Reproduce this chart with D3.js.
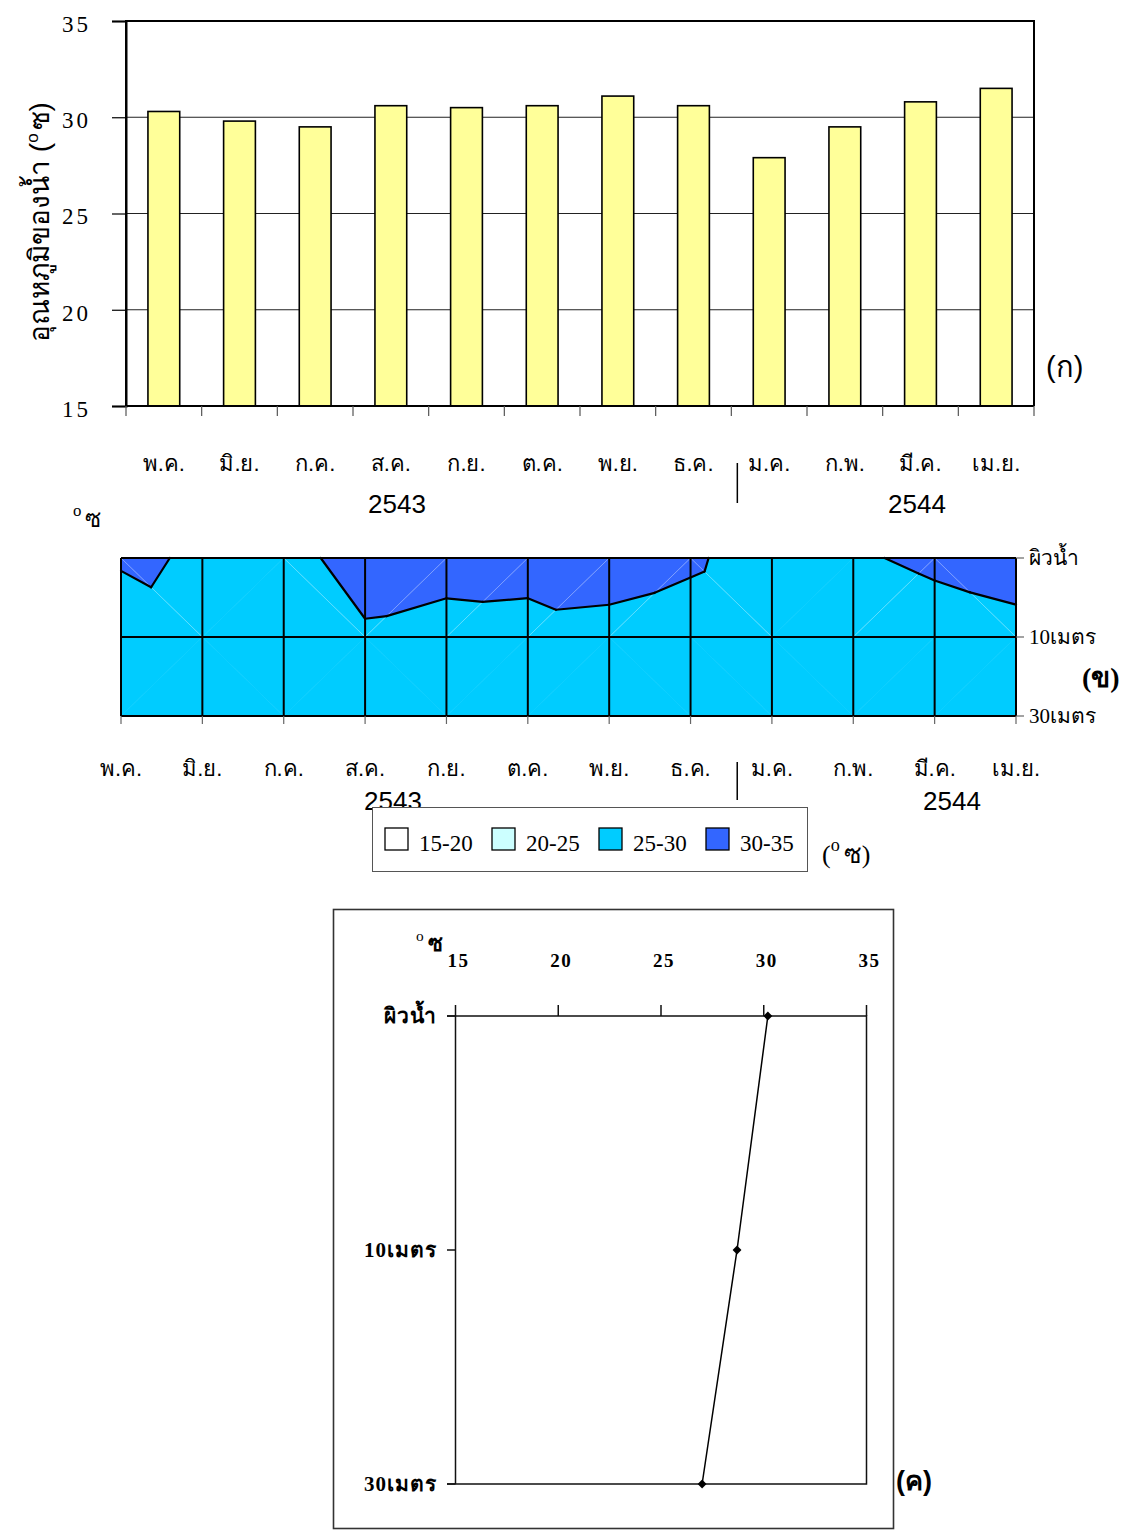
<!DOCTYPE html>
<html>
<head>
<meta charset="utf-8">
<script src="https://cdn.jsdelivr.net/npm/d3@7"></script>
<style>
  body { margin: 0; background: #fff; }
  svg { display: block; }
</style>
</head>
<body>
<svg id="chart" width="1128" height="1533"></svg>
<script>
// ---- data ----
const months = ["พ.ค.", "มิ.ย.", "ก.ค.", "ส.ค.", "ก.ย.", "ต.ค.", "พ.ย.", "ธ.ค.", "ม.ค.", "ก.พ.", "มี.ค.", "เม.ย."];
const years = ["2543", "2544"];
const depths = ["ผิวน้ำ", "10เมตร", "30เมตร"];
// monthly water temperature (°C) at each depth
const surfaceTemp = [30.3, 29.8, 29.5, 30.6, 30.5, 30.6, 31.1, 30.6, 27.9, 29.5, 30.8, 31.5];
const temp10m = [28.46, 29.49, 28.6, 29.82, 29.52, 29.42, 29.24, 28.17, 27.11, 26.75, 28.0, 28.96];
const temp30m = [27.3, 27.6, 27.2, 27.8, 27.9, 27.6, 27.4, 26.7, 25.8, 25.6, 26.2, 26.4];
// annual mean profile
const profileTemp = [30.2, 28.7, 27.0];
// contour bands
const bandLevels = [15, 20, 25, 30, 35];
const bandLabels = ["15-20", "20-25", "25-30", "30-35"];
const tempTicks = [15, 20, 25, 30, 35];

const bandColors = ["#FFFFFF", "#CCFFFF", "#00CCFF", "#3366FF"];
const serif = "'Liberation Serif','DejaVu Serif',serif";
const sans = "'Liberation Sans Narrow','Liberation Sans','DejaVu Sans',sans-serif";

const svg = d3.select("#chart");

// "°ซ" unit label with a raised small circle
function degLabel(g, x, y, size, paren, bold) {
  const t = g.append("text").attr("x", x).attr("y", y)
    .attr("font-family", serif).attr("font-size", size)
    .attr("font-weight", bold ? "bold" : "normal");
  if (paren) t.append("tspan").text("(");
  t.append("tspan").attr("font-size", size * 0.7).attr("font-weight", "normal")
    .attr("dy", -size * 0.45).text("o");
  t.append("tspan").attr("dy", size * 0.45).attr("dx", 4).text(paren ? "ซ)" : "ซ");
  return t;
}

// ================= (ก) monthly surface temperature bars =================
const gA = svg.append("g");
const xA = d3.scaleBand().domain(months).range([126, 1034]).paddingInner(0.58).paddingOuter(0.29);
const yA = d3.scaleLinear().domain([15, 35]).range([406, 21]);

gA.selectAll("line.grid").data(tempTicks.filter(d => d > 15 && d < 35)).join("line")
  .attr("class", "grid")
  .attr("x1", 126).attr("x2", 1034)
  .attr("y1", d => yA(d)).attr("y2", d => yA(d))
  .attr("stroke", "#222").attr("stroke-width", 1.2);

gA.selectAll("rect.bar").data(surfaceTemp).join("rect")
  .attr("class", "bar")
  .attr("x", (d, i) => xA(months[i]))
  .attr("y", d => yA(d))
  .attr("width", xA.bandwidth())
  .attr("height", d => yA(15) - yA(d))
  .attr("fill", "#FFFF99").attr("stroke", "#000").attr("stroke-width", 1.6);

// frame
gA.append("path").attr("d", `M126,${yA(15)}V${yA(35)}H1034V${yA(15)}`)
  .attr("fill", "none").attr("stroke", "#000").attr("stroke-width", 2);

// y axis
const axA = gA.append("g").attr("transform", "translate(126,0)")
  .call(d3.axisLeft(yA).tickValues(tempTicks).tickSize(14).tickPadding(35).tickFormat(d3.format("d")));
axA.select(".domain").attr("stroke-width", 2);
axA.selectAll(".tick line").attr("stroke-width", 1.2);
axA.selectAll(".tick text").attr("font-family", serif).attr("font-size", 23)
  .attr("letter-spacing", 3).attr("text-anchor", "start").attr("x", -64)
  .attr("dy", "0.45em").attr("fill", "#000");

// x axis: ticks at category boundaries
const stepA = xA.step();
const boundsA = d3.range(months.length + 1).map(i => xA.range()[0] + i * stepA);
gA.append("line").attr("x1", 126).attr("x2", 1034).attr("y1", yA(15)).attr("y2", yA(15))
  .attr("stroke", "#000").attr("stroke-width", 2);
gA.selectAll("line.xt").data(boundsA).join("line").attr("class", "xt")
  .attr("x1", d => d).attr("x2", d => d).attr("y1", yA(15)).attr("y2", yA(15) + 10)
  .attr("stroke", "#555").attr("stroke-width", 1.2);

gA.selectAll("text.mon").data(months).join("text").attr("class", "mon")
  .attr("x", d => xA(d) + xA.bandwidth() / 2).attr("y", 471)
  .attr("text-anchor", "middle").attr("font-family", sans).attr("font-size", 22)
  .text(d => d);

const sepA = xA("ม.ค.") - (stepA - xA.bandwidth()) / 2 + 6;
gA.append("line").attr("x1", sepA).attr("x2", sepA).attr("y1", 463).attr("y2", 503)
  .attr("stroke", "#000").attr("stroke-width", 1.5);
gA.append("text").attr("x", 397).attr("y", 513).attr("text-anchor", "middle")
  .attr("font-family", sans).attr("font-size", 26).text(years[0]);
gA.append("text").attr("x", 917).attr("y", 513).attr("text-anchor", "middle")
  .attr("font-family", sans).attr("font-size", 26).text(years[1]);

// rotated y title
const yt = gA.append("text").attr("transform", "translate(49,222) rotate(-90)")
  .attr("text-anchor", "middle").attr("font-family", sans).attr("font-size", 28);
yt.append("tspan").text("อุณหภูมิของน้ำ (");
yt.append("tspan").attr("font-size", 17).attr("dy", -11).text("o");
yt.append("tspan").attr("dy", 11).attr("dx", 3).text("ซ)");

gA.append("text").attr("x", 1046).attr("y", 377).attr("font-family", sans).attr("font-size", 29).text("(ก)");

// ================= (ข) depth-time temperature contour =================
const gB = svg.append("g");
const xB = d3.scalePoint().domain(months).range([121, 1016]);
const yB = d3.scalePoint().domain(depths).range([558, 716]);
const grid = [surfaceTemp, temp10m, temp30m];

const node = (r, c) => ({ x: xB(months[c]), y: yB(depths[r]), v: grid[r][c] });
const lerp = (a, b, L) => {
  const t = (L - a.v) / (b.v - a.v);
  return { x: a.x + t * (b.x - a.x), y: a.y + t * (b.y - a.y), v: L };
};
// keep the part of a polygon where sign*(v - L) >= 0
function clip(poly, L, sign) {
  const out = [];
  for (let i = 0; i < poly.length; i++) {
    const a = poly[i], b = poly[(i + 1) % poly.length];
    const ia = sign * (a.v - L) >= 0, ib = sign * (b.v - L) >= 0;
    if (ia && ib) out.push(b);
    else if (ia && !ib) out.push(lerp(a, b, L));
    else if (!ia && ib) { out.push(lerp(a, b, L)); out.push(b); }
  }
  return out;
}

// split every grid cell into two triangles along the warmer diagonal
const tris = [], diagonals = [];
for (let r = 0; r < depths.length - 1; r++) {
  for (let c = 0; c < months.length - 1; c++) {
    const TL = node(r, c), TR = node(r, c + 1), BL = node(r + 1, c), BR = node(r + 1, c + 1);
    let pair, diag;
    if (TL.v + BR.v >= TR.v + BL.v) { pair = [[TL, TR, BR], [TL, BR, BL]]; diag = [TL, BR]; }
    else { pair = [[TL, TR, BL], [TR, BR, BL]]; diag = [TR, BL]; }
    tris.push(...pair);
    const vals = [TL.v, TR.v, BL.v, BR.v];
    const lo = d3.min(vals), hi = d3.max(vals);
    if (bandLevels.some(L => L > lo && L < hi)) diagonals.push(diag);
  }
}

const polys = [];
tris.forEach(t => {
  for (let k = 0; k < bandLabels.length; k++) {
    let p = clip(t, bandLevels[k], 1);
    if (p.length) p = clip(p, bandLevels[k + 1], -1);
    if (p.length >= 3) polys.push({ pts: p, k });
  }
});
const polyLine = d3.line().x(d => d.x).y(d => d.y);
gB.selectAll("path.band").data(polys).join("path").attr("class", "band")
  .attr("d", d => polyLine(d.pts) + "Z")
  .attr("fill", d => bandColors[d.k]).attr("stroke", d => bandColors[d.k]).attr("stroke-width", 0.6);

gB.selectAll("line.diag").data(diagonals).join("line").attr("class", "diag")
  .attr("x1", d => d[0].x).attr("y1", d => d[0].y).attr("x2", d => d[1].x).attr("y2", d => d[1].y)
  .attr("stroke", "#fff").attr("stroke-opacity", 0.35).attr("stroke-width", 1);

// grid
gB.selectAll("line.vg").data(months).join("line").attr("class", "vg")
  .attr("x1", d => xB(d)).attr("x2", d => xB(d)).attr("y1", 558).attr("y2", 716)
  .attr("stroke", "#000").attr("stroke-width", 2);
gB.selectAll("line.hg").data(depths).join("line").attr("class", "hg")
  .attr("x1", 121).attr("x2", 1016).attr("y1", d => yB(d)).attr("y2", d => yB(d))
  .attr("stroke", "#000").attr("stroke-width", 2);

// isotherm lines
const segs = [];
tris.forEach(t => {
  bandLevels.slice(1, -1).forEach(L => {
    const pts = [];
    for (let i = 0; i < 3; i++) {
      const a = t[i], b = t[(i + 1) % 3];
      if ((a.v - L) * (b.v - L) < 0) pts.push(lerp(a, b, L));
    }
    if (pts.length === 2) segs.push(pts);
  });
});
gB.selectAll("line.iso").data(segs).join("line").attr("class", "iso")
  .attr("x1", d => d[0].x).attr("y1", d => d[0].y).attr("x2", d => d[1].x).attr("y2", d => d[1].y)
  .attr("stroke", "#000").attr("stroke-width", 2.2).attr("stroke-linecap", "round");

// ticks and labels
gB.selectAll("line.mt").data(months).join("line").attr("class", "mt")
  .attr("x1", d => xB(d)).attr("x2", d => xB(d)).attr("y1", 716).attr("y2", 724)
  .attr("stroke", "#666").attr("stroke-width", 1.2);
gB.selectAll("line.dt").data(depths).join("line").attr("class", "dt")
  .attr("x1", 1016).attr("x2", 1024).attr("y1", d => yB(d)).attr("y2", d => yB(d))
  .attr("stroke", "#666").attr("stroke-width", 1.2);
gB.selectAll("text.dl").data(depths).join("text").attr("class", "dl")
  .attr("x", 1029).attr("y", d => yB(d) + 7)
  .attr("font-family", serif).attr("font-size", 21).text(d => d);
gB.append("text").attr("x", 1082).attr("y", 687).attr("font-family", serif)
  .attr("font-weight", "bold").attr("font-size", 28).text("(ข)");

gB.selectAll("text.mon").data(months).join("text").attr("class", "mon")
  .attr("x", d => xB(d)).attr("y", 776).attr("text-anchor", "middle")
  .attr("font-family", sans).attr("font-size", 22).text(d => d);
const sepB = (xB("ธ.ค.") + xB("ม.ค.")) / 2 + 6;
gB.append("line").attr("x1", sepB).attr("x2", sepB).attr("y1", 762).attr("y2", 800)
  .attr("stroke", "#000").attr("stroke-width", 1.5);
gB.append("text").attr("x", 393).attr("y", 810).attr("text-anchor", "middle")
  .attr("font-family", sans).attr("font-size", 26).text(years[0]);
gB.append("text").attr("x", 952).attr("y", 810).attr("text-anchor", "middle")
  .attr("font-family", sans).attr("font-size", 26).text(years[1]);

degLabel(gB, 73, 527, 24, false, false);

// legend
const lg = gB.append("g");
lg.append("rect").attr("x", 372.5).attr("y", 807.5).attr("width", 435).attr("height", 64)
  .attr("fill", "#fff").attr("stroke", "#555").attr("stroke-width", 1);
const lgX = [385, 492, 599, 706];
const items = lg.selectAll("g.item").data(bandLabels).join("g").attr("class", "item")
  .attr("transform", (d, i) => `translate(${lgX[i]},828)`);
items.append("rect").attr("width", 23).attr("height", 22)
  .attr("fill", (d, i) => bandColors[i]).attr("stroke", "#000").attr("stroke-width", 1.3);
items.append("text").attr("x", 34).attr("y", 23).attr("font-family", serif)
  .attr("font-size", 23).text(d => d);
degLabel(gB, 822, 863, 26, true, false);

// ================= (ค) annual mean temperature profile =================
const gC = svg.append("g");
gC.append("rect").attr("x", 333.5).attr("y", 909.5).attr("width", 560).attr("height", 619)
  .attr("fill", "#fff").attr("stroke", "#333").attr("stroke-width", 1.6);
const xC = d3.scaleLinear().domain([15, 35]).range([455.5, 866.5]);
const yC = d3.scalePoint().domain(depths).range([1016, 1484]);

gC.append("path")
  .attr("d", `M447,${yC(depths[0])}H${xC(35)}V${yC(depths[2])}H447M${xC(15)},${yC(depths[0])}V${yC(depths[2])}`)
  .attr("fill", "none").attr("stroke", "#111").attr("stroke-width", 1.5);
gC.selectAll("line.xt").data(tempTicks).join("line").attr("class", "xt")
  .attr("x1", d => xC(d)).attr("x2", d => xC(d)).attr("y1", yC(depths[0])).attr("y2", yC(depths[0]) - 11)
  .attr("stroke", "#111").attr("stroke-width", 1.5);
gC.selectAll("line.yt").data(depths).join("line").attr("class", "yt")
  .attr("x1", 447).attr("x2", xC(15)).attr("y1", d => yC(d)).attr("y2", d => yC(d))
  .attr("stroke", "#111").attr("stroke-width", 1.5);
gC.selectAll("text.xl").data(tempTicks).join("text").attr("class", "xl")
  .attr("x", d => xC(d) + 3).attr("y", 967).attr("text-anchor", "middle")
  .attr("font-family", serif).attr("font-weight", "bold").attr("font-size", 19)
  .attr("letter-spacing", 1.5).text(d => d);
gC.selectAll("text.yl").data(depths).join("text").attr("class", "yl")
  .attr("x", 437).attr("y", d => yC(d) + 7).attr("text-anchor", "end")
  .attr("font-family", serif).attr("font-weight", "bold").attr("font-size", 21)
  .attr("letter-spacing", 1).text(d => d);
degLabel(gC, 416, 951, 22, false, true);

gC.append("path").datum(profileTemp)
  .attr("d", d3.line().x(d => xC(d)).y((d, i) => yC(depths[i])))
  .attr("fill", "none").attr("stroke", "#000").attr("stroke-width", 1.5);
gC.selectAll("path.mk").data(profileTemp).join("path").attr("class", "mk")
  .attr("transform", (d, i) => `translate(${xC(d)},${yC(depths[i])})`)
  .attr("d", d3.symbol(d3.symbolDiamond2, 50)).attr("fill", "#000");

gC.append("text").attr("x", 896).attr("y", 1490).attr("font-family", sans)
  .attr("font-weight", "bold").attr("font-size", 27).text("(ค)");
</script>
</body>
</html>
